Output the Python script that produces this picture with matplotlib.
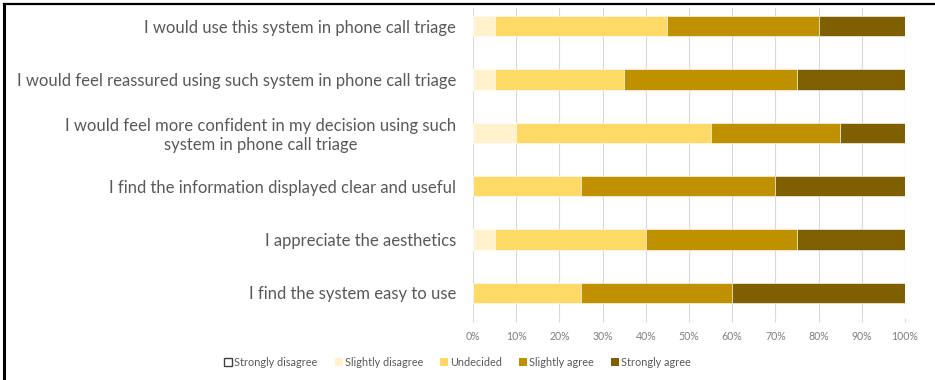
import matplotlib.pyplot as plt
import numpy as np
from matplotlib.lines import Line2D

statements = [
    "I would use this system in phone call triage",
    "I would feel reassured using such system in phone call triage",
    "I would feel more confident in my decision using such\nsystem in phone call triage",
    "I find the information displayed clear and useful",
    "I appreciate the aesthetics",
    "I find the system easy to use",
]
levels = ["Strongly disagree", "Slightly disagree", "Undecided",
          "Slightly agree", "Strongly agree"]

# percentages per statement (top to bottom)
strongly_disagree = [0, 0, 0, 0, 0, 0]
slightly_disagree = [5, 5, 10, 0, 5, 0]
undecided = [40, 30, 45, 25, 35, 25]
slightly_agree = [35, 40, 30, 45, 35, 35]
strongly_agree = [20, 25, 15, 30, 25, 40]

colors = ["#FFFFFF", "#FFF2CC", "#FFD966", "#BF9000", "#7F6000"]
series = [strongly_disagree, slightly_disagree, undecided,
          slightly_agree, strongly_agree]

plt.rcParams["font.family"] = ["Lato", "DejaVu Sans"]

fig = plt.figure(figsize=(9.35, 3.8), dpi=100)
ax = fig.add_axes([473 / 935, 1 - 318 / 380, 432 / 935, 310 / 380])

y = np.arange(len(statements))
left = np.zeros(len(statements))
for vals, col in zip(series, colors):
    vals = np.array(vals, dtype=float)
    ax.barh(y, vals, left=left, height=0.38, color=col,
            edgecolor="#FFFFFF", linewidth=0.4, zorder=3)
    left += vals

ax.set_xlim(0, 100)
ax.set_ylim(5.47, -0.34)
ax.set_xticks(np.arange(0, 101, 10))
ax.set_xticklabels([f"{v}%" for v in range(0, 101, 10)])
ax.grid(axis="x", color="#D9D9D9", linewidth=0.8, zorder=0)
ax.set_yticks(y)
ax.set_yticklabels(statements, ha="right", multialignment="center",
                   fontsize=12, color="#595959")
ax.tick_params(axis="y", length=0, pad=12)
ax.tick_params(axis="x", length=3, color="#D9D9D9", labelsize=7.6,
               labelcolor="#7F7F7F", pad=6)
for s in ax.spines.values():
    s.set_visible(False)

handles = [Line2D([], [], marker="s", linestyle="", markersize=6,
                  markerfacecolor=c,
                  markeredgecolor="#404040" if i == 0 else c,
                  markeredgewidth=1.0 if i == 0 else 0)
           for i, c in enumerate(colors)]
fig.legend(handles, levels, loc="center", bbox_to_anchor=(457 / 935, 1 - 362 / 380),
           ncol=5, frameon=False, fontsize=7.8, labelcolor="#595959",
           handletextpad=0.1, columnspacing=1.5, handlelength=0.9)

# outer frame lines
fig.add_artist(Line2D([4 / 935, 4 / 935], [0, 1 - 4 / 380], color="black", linewidth=2.2))
fig.add_artist(Line2D([4 / 935, 1], [1 - 4 / 380, 1 - 4 / 380], color="black", linewidth=1.6))

fig.savefig("out.png", dpi=100)
